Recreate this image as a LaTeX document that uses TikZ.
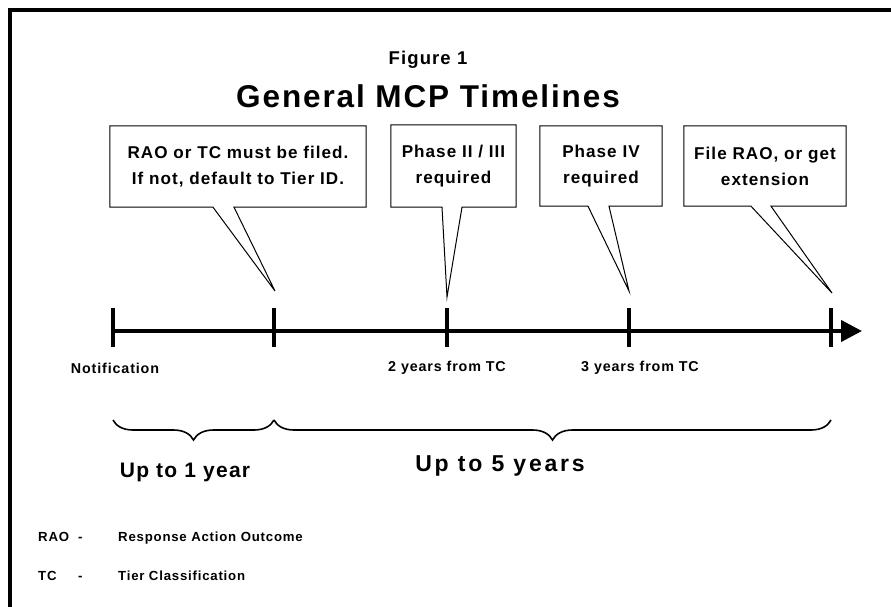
\documentclass[tikz,border=0pt]{standalone}
\usepackage{fontspec}
\setmainfont{Liberation Sans}[LetterSpace=6]
\usetikzlibrary{decorations.pathreplacing,arrows.meta}
\newcommand\fsz[1]{\fontsize{#1}{#1}\selectfont\bfseries}
\tikzset{
  border/.style={line width=4pt, line cap=rect, line join=miter},
  callbox/.style={inner sep=0pt, align=center, font=\fontsize{17.1}{26}\selectfont\bfseries},
  callline/.style={draw=black, fill=white, line width=1pt, line join=miter},
  tickmark/.style={fill=black, inner sep=0pt, minimum width=4pt, minimum height=39pt},
  axis/.style={line width=4pt, -{Triangle[length=21pt,width=21pt]}},
  lbl/.style={inner sep=0pt, font=\fsz{14.3}},
  spanlbl/.style={inner sep=0pt, font=\fsz{21}},
  legend/.style={inner sep=0pt, anchor=base west, font=\fsz{13.2}},
  brc/.style={line width=1.6pt, decorate, decoration={brace, mirror, amplitude=20pt}},
}
\begin{document}
\begin{tikzpicture}[x=1pt,y=1pt]
\useasboundingbox (0,0) rectangle (891,-607);
\fill[white] (0,0) rectangle (891,-607);
% frame
\draw[border] (10,-607) -- (10,-10) -- (891,-10);
% title
\node[inner sep=0pt, font=\fsz{18.5}] (fig) at (428,-60) {Figure 1};
\node[inner sep=0pt, font=\fsz{31.5}] (title) at (428,-96) {General MCP Timelines};
% timeline
\coordinate (start) at (113,-331);
\coordinate (end) at (862,-331);
\draw[axis] (start) -- (end);
\node[tickmark] (k1) at (113,-327.5) {};
\node[tickmark] (k2) at (274,-327.5) {};
\node[tickmark] (k3) at (447,-327.5) {};
\node[tickmark] (k4) at (629,-327.5) {};
\node[tickmark] (k5) at (831,-327.5) {};
% callout boxes
\node[callbox, minimum width=256pt, minimum height=81pt] (c1) at (238,-166.5) {RAO or TC must be filed.\\If not, default to Tier ID.};
\node[callbox, minimum width=125pt, minimum height=82pt] (c2) at (453.5,-166) {Phase II / III\\required};
\node[callbox, minimum width=122pt, minimum height=80pt] (c3) at (601,-166) {Phase IV\\required};
\node[callbox, minimum width=162pt, minimum height=80pt] (c4) at (765,-166) {File RAO, or get\\extension};
% pointer bases and tips
\coordinate (x1a) at (213,0); \coordinate (x1b) at (234,0); \coordinate (t1) at (275,-291);
\coordinate (x2a) at (442,0); \coordinate (x2b) at (462,0); \coordinate (t2) at (447,-297);
\coordinate (x3a) at (588,0); \coordinate (x3b) at (609,0); \coordinate (t3) at (629,-291);
\coordinate (x4a) at (751,0); \coordinate (x4b) at (771,0); \coordinate (t4) at (832,-293);
\foreach \i in {1,2,3,4}{
  \draw[callline] (c\i.south west) -- (c\i.north west) -- (c\i.north east) -- (c\i.south east)
    -- (c\i.south -| x\i b) -- (t\i) -- (c\i.south -| x\i a) -- cycle;
}
% redraw texts above the filled outlines
\node[callbox, minimum width=256pt, minimum height=81pt] at (c1) {RAO or TC must be filed.\\If not, default to Tier ID.};
\node[callbox, minimum width=125pt, minimum height=82pt] at (c2) {Phase II / III\\required};
\node[callbox, minimum width=122pt, minimum height=80pt] at (c3) {Phase IV\\required};
\node[callbox, minimum width=162pt, minimum height=80pt] at (c4) {File RAO, or get\\extension};
% labels under the timeline
\node[lbl] (n1) at (115,-368) {Notification};
\node[lbl] (n2) at (447,-368) {2 years from TC};
\node[lbl] (n3) at (640,-368) {3 years from TC};
% braces
\coordinate (b0) at (113,-420);
\coordinate (b1) at (274,-420);
\coordinate (b2) at (831,-420);
\draw[brc] (b0) -- (b1);
\draw[brc] (b1) -- (b2);
\node[spanlbl] (s1) at (185,-472) {Up to 1 year};
\node[spanlbl, font=\fsz{23}\addfontfeatures{LetterSpace=12}] (s2) at (500,-466) {Up to 5 years};
% legend
\node[legend] (l1) at (38,-541) {RAO};
\node[legend] (l1d) at (78,-541) {-};
\node[legend] (l1t) at (118,-541) {Response Action Outcome};
\node[legend] (l2) at (38,-580) {TC};
\node[legend] (l2d) at (78,-580) {-};
\node[legend] (l2t) at (118,-580) {Tier Classification};
\end{tikzpicture}
\end{document}
